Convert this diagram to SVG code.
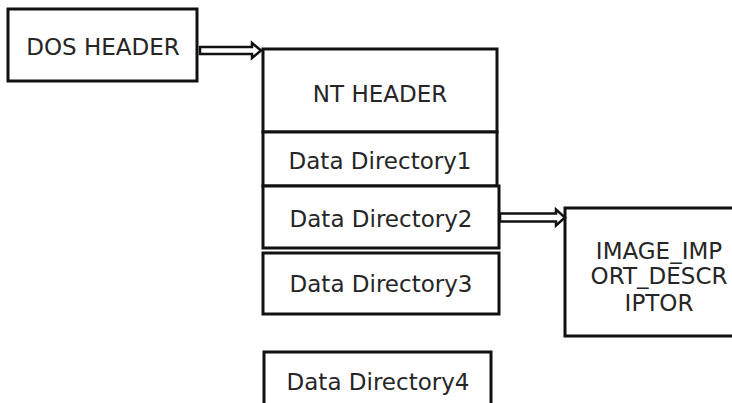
<svg xmlns="http://www.w3.org/2000/svg" width="732" height="403" viewBox="0 0 732 403">
  <style>
    .box { fill: #ffffff; stroke: #111111; stroke-width: 3; }
    .lbl { font-family: "DejaVu Sans", Verdana, sans-serif; font-size: 23px; fill: #262626; text-anchor: middle; }
    .arrow { fill: #ffffff; stroke: #111111; stroke-width: 2.5; stroke-linejoin: miter; }
  </style>
  <rect width="732" height="403" fill="#ffffff"/>

  <g id="dos-header">
    <rect class="box" x="8" y="9" width="189" height="72"/>
    <text class="lbl" x="103" y="55">DOS HEADER</text>
  </g>

  <g id="nt-header">
    <rect class="box" x="263" y="49" width="234" height="83"/>
    <text class="lbl" x="380" y="102">NT HEADER</text>
  </g>

  <g id="data-directory-1">
    <rect class="box" x="263" y="132" width="234" height="54"/>
    <text class="lbl" x="380" y="169">Data Directory1</text>
  </g>

  <g id="data-directory-2">
    <rect class="box" x="263" y="186" width="236" height="62"/>
    <text class="lbl" x="381" y="227">Data Directory2</text>
  </g>

  <g id="data-directory-3">
    <rect class="box" x="263" y="253" width="236" height="61"/>
    <text class="lbl" x="381" y="292">Data Directory3</text>
  </g>

  <g id="data-directory-4">
    <rect class="box" x="264" y="352" width="227" height="60"/>
    <text class="lbl" x="378" y="390">Data Directory4</text>
  </g>

  <g id="image-import-descriptor">
    <rect class="box" x="565" y="208" width="180" height="128"/>
    <text class="lbl" x="659" y="259">IMAGE_IMP</text>
    <text class="lbl" x="659" y="284">ORT_DESCR</text>
    <text class="lbl" x="659" y="311">IPTOR</text>
  </g>

  <g id="connectors">
    <!-- hollow block arrow: DOS HEADER to NT HEADER -->
    <path class="arrow" d="M200,47 H252 V43 L261,50.5 L252,58 V54 H200 Z"/>
    <!-- hollow block arrow: Data Directory2 to IMAGE_IMPORT_DESCRIPTOR -->
    <path class="arrow" d="M500,213.5 H556 V209.5 L565,217.5 L556,225.5 V221.5 H500 Z"/>
  </g>
</svg>
